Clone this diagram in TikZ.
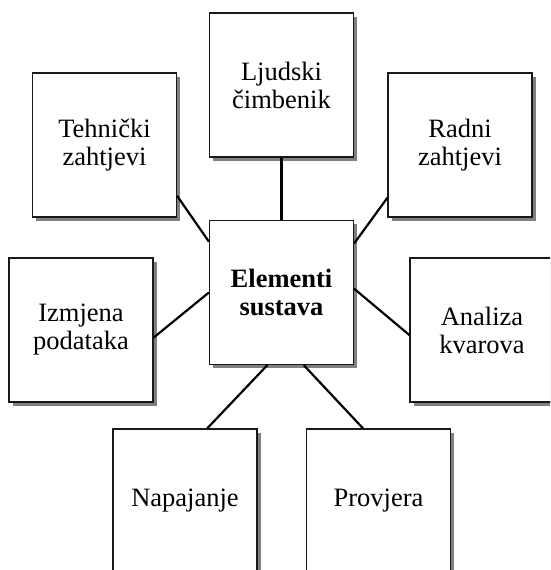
\documentclass[tikz,border=0pt]{standalone}
\usepackage{fontspec}
\setmainfont{Liberation Serif}
\usetikzlibrary{shadows}
\begin{document}
\begin{tikzpicture}[x=1pt,y=-1pt,box/.style={draw=black!90,line width=1.2pt,fill=white,minimum width=144pt,minimum height=144pt,inner sep=0pt,align=center,font=\fontsize{26.5}{28}\selectfont,drop shadow={shadow xshift=3.5pt,shadow yshift=-3.5pt,fill=black!50,opacity=1}}]
\useasboundingbox (0,0) rectangle (550,570);
\clip (0,0) rectangle (550,570);
\node[box] (elem) at (281.5,292.5) {\bfseries Elementi\\\bfseries sustava};
\node[box] (ljud) at (281.5,85) {Ljudski\\čimbenik};
\node[box] (tehn) at (104.5,145) {Tehnički\\zahtjevi};
\node[box] (radn) at (460,145) {Radni\\zahtjevi};
\node[box] (izmj) at (81,330) {Izmjena\\podataka};
\node[box] (anal) at (482,330) {Analiza\\kvarova};
\node[box] (napa) at (185,501) {Napajanje};
\node[box] (prov) at (378.5,501) {Provjera};
\foreach \a/\b in {ljud.south/elem.north,tehn.-35/elem.145,radn.216/elem.34,izmj.-6/elem.180,elem.3/anal.184,elem.-101/napa.73,elem.-73/prov.102} {\draw[line width=2.2pt] (\a)--(\b);}
\end{tikzpicture}
\end{document}
